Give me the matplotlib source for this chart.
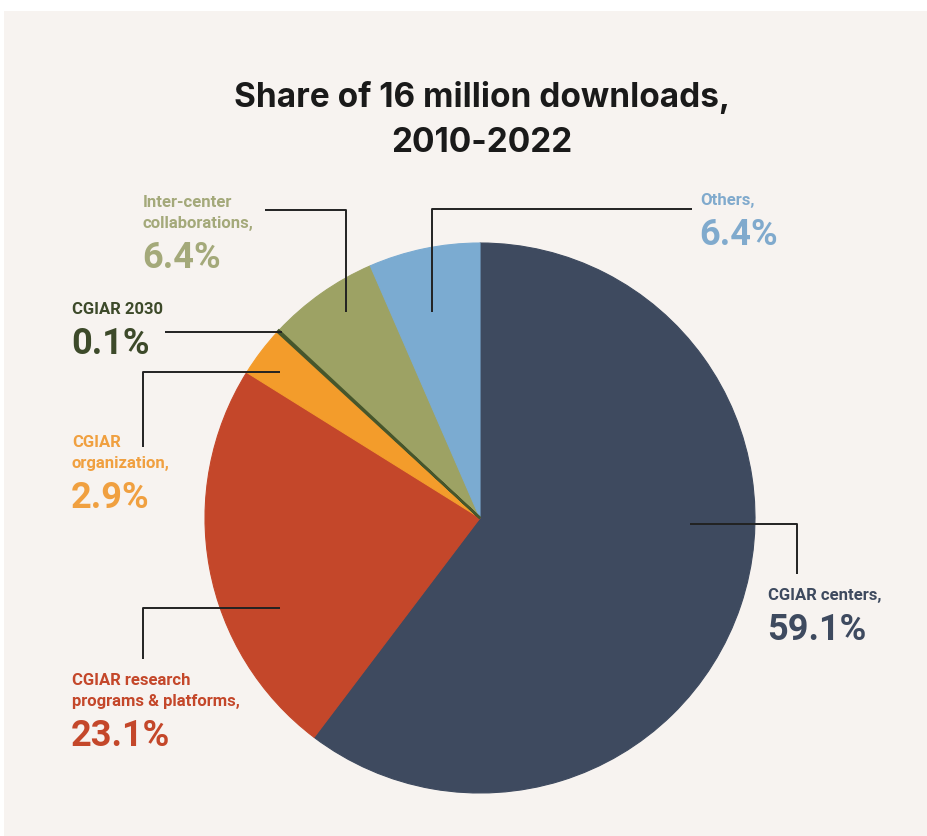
import matplotlib.pyplot as plt
from matplotlib.patches import Rectangle

W, H = 928, 837

labels = ["CGIAR centers", "CGIAR research programs & platforms", "CGIAR organization",
          "CGIAR 2030", "Inter-center collaborations", "Others"]
shares = [59.1, 23.1, 2.9, 0.1, 6.4, 6.4]
colors = ["#3e4a5f", "#c4472a", "#f39c2b", "#46562c", "#9da264", "#7babd1"]
text_colors = ["#3e4a5f", "#c4472a", "#f0a040", "#3d4a2a", "#a4a97a", "#80aacd"]

FONT = ["Roboto", "DejaVu Sans"]


def py(y):
    # picture rows run downward, axes y upward
    return H - y


def leader(ax, pts):
    xs = [p[0] for p in pts]
    ys = [py(p[1]) for p in pts]
    ax.plot(xs, ys, color="#222222", lw=1.4, solid_capstyle="butt", zorder=3)


def label(ax, x, top, lines, pct, col):
    for i, ln in enumerate(lines):
        ax.text(x, py(top + 21 * i + 12), ln, color=col, fontsize=12, fontweight="bold",
                family=FONT, va="baseline", ha="left")
    ax.text(x - 1, py(top + 21 * (len(lines) - 1) + 52), pct, color=col, fontsize=26,
            fontweight="bold", family=FONT, va="baseline", ha="left")


def main():
    fig = plt.figure(figsize=(W / 100, H / 100), dpi=100, facecolor="white")
    ax = fig.add_axes([0, 0, 1, 1])
    wedges, _ = ax.pie(shares, colors=colors, startangle=90, counterclock=False,
                       center=(480, py(519)), radius=275, wedgeprops=dict(zorder=2))
    for w in wedges:
        w.set_edgecolor(w.get_facecolor())
        w.set_linewidth(0.8)
    # the 0.1% slice is a hairline, give it some body like the original
    wedges[3].set_linewidth(1.8)
    wedges[3].set_zorder(2.5)
    ax.add_patch(Rectangle((4, 0), W - 4, H - 12, facecolor="#f7f3f0",
                           edgecolor="none", zorder=0))
    ax.set_xlim(0, W)
    ax.set_ylim(0, H)
    ax.set_aspect("equal")
    ax.axis("off")

    title_font = dict(ha="center", va="baseline", fontsize=24, fontweight="bold",
                      family=["Inter", "DejaVu Sans"], color="#1a1a1a")
    ax.text(482, py(107), "Share of 16 million downloads,", **title_font)
    ax.text(482, py(152), "2010-2022", **title_font)

    # leader lines
    leader(ax, [(692, 210), (432, 210), (432, 313)])
    leader(ax, [(265, 211), (346, 211), (346, 313)])
    leader(ax, [(165, 333), (282, 333)])
    leader(ax, [(280, 373), (143, 373), (143, 448)])
    leader(ax, [(280, 609), (143, 609), (143, 660)])
    leader(ax, [(690, 525), (797, 525), (797, 575)])

    label(ax, 700, 193, ["Others,"], "6.4%", text_colors[5])
    label(ax, 143, 195, ["Inter-center", "collaborations,"], "6.4%", text_colors[4])
    label(ax, 72, 302, ["CGIAR 2030"], "0.1%", text_colors[3])
    label(ax, 72, 435, ["CGIAR", "organization,"], "2.9%", text_colors[2])
    label(ax, 72, 673, ["CGIAR research", "programs & platforms,"], "23.1%", text_colors[1])
    label(ax, 768, 588, ["CGIAR centers,"], "59.1%", text_colors[0])

    fig.savefig("out.png", dpi=100, facecolor=fig.get_facecolor())


if __name__ == '__main__':
    main()
